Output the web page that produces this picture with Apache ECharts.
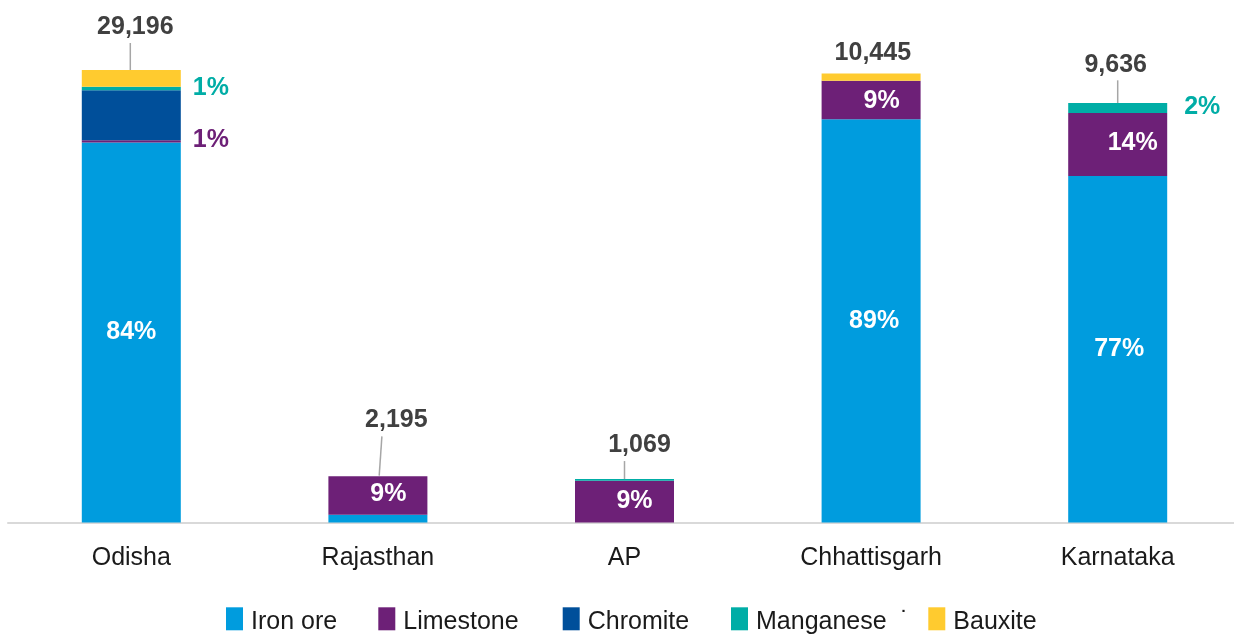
<!DOCTYPE html>
<html>
<head>
<meta charset="utf-8">
<title>Mineral value by state</title>
<script src="https://cdn.jsdelivr.net/npm/echarts@6/dist/echarts.min.js"></script>
<style>
  html, body { margin: 0; padding: 0; background: #ffffff; }
  #chart { width: 1234px; height: 634px; }
</style>
</head>
<body>
<div id="chart"></div>
<script>
// States and the share (%) of each mineral in the state's output value
const states = ['Odisha', 'Rajasthan', 'AP', 'Chhattisgarh', 'Karnataka'];
const ironOre   = [84.0, 1.7, 0,   89.1, 76.6];
const limestone = [0.5,  8.5, 9.2, 8.5,  13.9];
const chromite  = [11.0, 0,   0,   0,    0];
const manganese = [0.8,  0,   0.4, 0,    2.2];
const bauxite   = [3.7,  0,   0,   1.6,  0];
// Total value per state shown above each bar
const stateTotals = [29196, 2195, 1069, 10445, 9636];

const FONT = '"Liberation Sans", Arial, Helvetica, sans-serif';
const colors = {
  'Iron ore': '#009CDE',
  'Limestone': '#6D2077',
  'Chromite': '#004F9A',
  'Manganese': '#00ADA6',
  'Bauxite': '#FFCB2F'
};

// Which segments carry a percentage label, and how it is placed
const segLabels = {
  'Iron ore': [
    { pos: 'inside', dx: 0, dy: 0 }, null, null,
    { pos: 'inside', dx: 3, dy: 0.5 }, { pos: 'inside', dx: 1.5, dy: -0.5 }
  ],
  'Limestone': [
    { pos: 'right', dist: 12, dy: -1 },
    { pos: 'inside', dx: 10.5, dy: -1.5 }, { pos: 'inside', dx: 10, dy: -0.5 },
    { pos: 'inside', dx: 10.5, dy: 1.5 }, { pos: 'inside', dx: 15, dy: -1.5 }
  ],
  'Manganese': [
    { pos: 'right', dist: 12, dy: -0.5 }, null, null, null,
    { pos: 'right', dist: 17, dy: -0.5 }
  ]
};

// Placement of the total labels and leader lines relative to the top of each bar
const totalLayout = [
  { line: [-1, 0, -1, -27], text: [4, -43] },
  { line: [1.3, -0.7, 4, -40], text: [18.5, -56.7] },
  { line: [0, 0, 0, -18], text: [15, -34.3] },
  { line: null, text: [1.7, -20.6] },
  { line: [0, 0, 0, -22.7], text: [-2, -38.3] }
];

function buildData(name, values) {
  const cfg = segLabels[name] || [];
  return values.map((v, i) => {
    const c = cfg[i];
    if (!c) return { value: v, label: { show: false } };
    if (c.pos === 'inside') {
      return {
        value: v,
        label: {
          show: true, position: 'inside', offset: [c.dx, c.dy],
          color: '#ffffff'
        }
      };
    }
    return {
      value: v,
      label: {
        show: true, position: 'right', distance: c.dist, offset: [0, c.dy],
        color: colors[name]
      }
    };
  });
}

function barSeries(name, values) {
  return {
    name: name,
    type: 'bar',
    stack: 'share',
    barWidth: 99,
    itemStyle: { color: colors[name] },
    label: {
      fontFamily: FONT, fontSize: 25, fontWeight: 'bold',
      formatter: p => Math.round(p.value) + '%'
    },
    emphasis: { disabled: true },
    data: buildData(name, values)
  };
}

const stackTop = states.map((_, i) =>
  ironOre[i] + limestone[i] + chromite[i] + manganese[i] + bauxite[i]);

const legendNames = ['Iron ore', 'Limestone', 'Chromite', 'Manganese', 'Bauxite'];
const legendLeft = [226, 378.3, 562.7, 731, 928.3];

const chart = echarts.init(document.getElementById('chart'), null, { renderer: 'canvas' });

chart.setOption({
  animation: false,
  backgroundColor: '#ffffff',
  grid: {
    left: 8, width: 1233, top: 24.75, height: 497.75,
    containLabel: false, outerBoundsMode: 'none'
  },
  xAxis: {
    type: 'category',
    data: states,
    axisLine: { show: true, lineStyle: { color: '#D9D9D9', width: 2 } },
    axisTick: { show: false },
    axisLabel: { color: '#1a1a1a', fontFamily: FONT, fontSize: 25, margin: 23 }
  },
  yAxis: { type: 'value', min: 0, max: 110, show: false, splitLine: { show: false } },
  legend: legendNames.map((n, k) => ({
    data: [n],
    left: legendLeft[k],
    top: 607.3,
    padding: 0,
    itemWidth: 17,
    itemHeight: 23,
    itemGap: 0,
    icon: 'rect',
    selectedMode: false,
    formatter: name => '{t|' + (name === 'Manganese' ? name + '  \u02D9' : name) + '}',
    textStyle: {
      color: '#1a1a1a', fontFamily: FONT, fontSize: 25,
      rich: {
        t: { color: '#1a1a1a', fontFamily: FONT, fontSize: 25, padding: [6, 0, 0, 3] }
      }
    }
  })),
  series: [
    barSeries('Iron ore', ironOre),
    barSeries('Limestone', limestone),
    barSeries('Chromite', chromite),
    barSeries('Manganese', manganese),
    barSeries('Bauxite', bauxite),
    {
      name: 'Total',
      type: 'custom',
      silent: true,
      z: 10,
      data: states.map((_, i) => [i, stackTop[i], stateTotals[i]]),
      renderItem: function (params, api) {
        const i = api.value(0);
        const top = api.coord([i, api.value(1)]);
        const lay = totalLayout[i];
        const children = [];
        if (lay.line) {
          children.push({
            type: 'line',
            shape: {
              x1: top[0] + lay.line[0], y1: top[1] + lay.line[1],
              x2: top[0] + lay.line[2], y2: top[1] + lay.line[3]
            },
            style: { stroke: '#A6A6A6', lineWidth: 1.5 }
          });
        }
        children.push({
          type: 'text',
          x: top[0] + lay.text[0],
          y: top[1] + lay.text[1],
          style: {
            text: api.value(2).toLocaleString('en-US'),
            fill: '#404040',
            font: 'bold 25px ' + FONT,
            align: 'center',
            verticalAlign: 'middle'
          }
        });
        return { type: 'group', children: children };
      }
    }
  ]
});
</script>
</body>
</html>
